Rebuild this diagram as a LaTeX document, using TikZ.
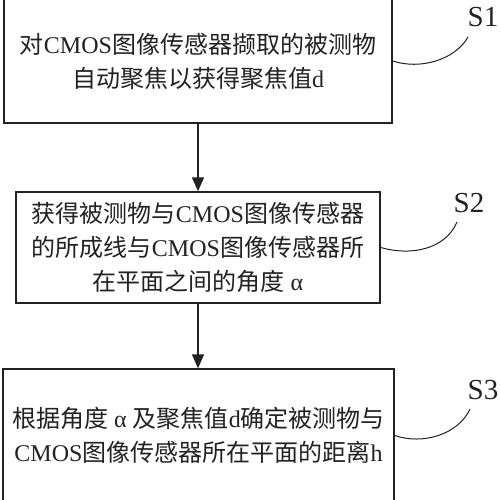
\documentclass[tikz,border=0pt]{standalone}
\usepackage{fontspec}
\setmainfont{Liberation Serif}
\newfontfamily\zh{Noto Sans CJK SC}
\usetikzlibrary{arrows.meta}
\definecolor{ink}{HTML}{222222}
\begin{document}
\begin{tikzpicture}[x=1pt,y=-1pt,
  stepbox/.style={draw=ink,line width=1.4pt,rectangle,inner sep=0pt,align=center,text=ink,
    font=\fontsize{24}{34}\selectfont},
  flow/.style={draw=ink,line width=1.4pt,-{Triangle[length=14pt,width=12pt]}},
  lead/.style={draw=ink,line width=1pt},
  tag/.style={text=ink,font=\fontsize{29}{32}\selectfont,inner sep=0pt}]
\fill[white] (0,0) rectangle (500,500);
\useasboundingbox (0,0) rectangle (500,500);
\begin{scope}
\clip (0,0) rectangle (500,500);
\node[stepbox,minimum width=388pt,minimum height=124pt] (b1) at (198,61)
  {{\zh 对}CMOS{\zh 图像传感器撷取的被测物}\\{\zh 自动聚焦以获得聚焦值}d};
\node[stepbox,minimum width=364pt,minimum height=111pt] (b2) at (198,247.5)
  {{\zh 获得被测物与}CMOS{\zh 图像传感器}\\{\zh 的所成线与}CMOS{\zh 图像传感器所}\\{\zh 在平面之间的角度} α};
\node[stepbox,minimum width=391pt,minimum height=133pt] (b3) at (198.5,435.5)
  {{\zh 根据角度} α {\zh 及聚焦值}d{\zh 确定被测物与}\\CMOS{\zh 图像传感器所在平面的距离}h};
\end{scope}
\draw[flow] (b1.south -| 198,0) -- (b2.north -| 198,0);
\draw[flow] (b2.south -| 198,0) -- (b3.north -| 198,0);
\node[tag] (s1) at (483,17) {S1};
\node[tag] (s2) at (469,203) {S2};
\node[tag] (s3) at (483,390) {S3};
\coordinate (e1) at (468,37);
\coordinate (e2) at (457,222);
\coordinate (e3) at (470,409);
\draw[lead] (b1.east) .. controls (420,70) and (455,60) .. (e1);
\draw[lead] (b2.east) .. controls (410,256) and (445,250) .. (e2);
\draw[lead] (b3.east) .. controls (422,445) and (458,435) .. (e3);
\end{tikzpicture}
\end{document}
